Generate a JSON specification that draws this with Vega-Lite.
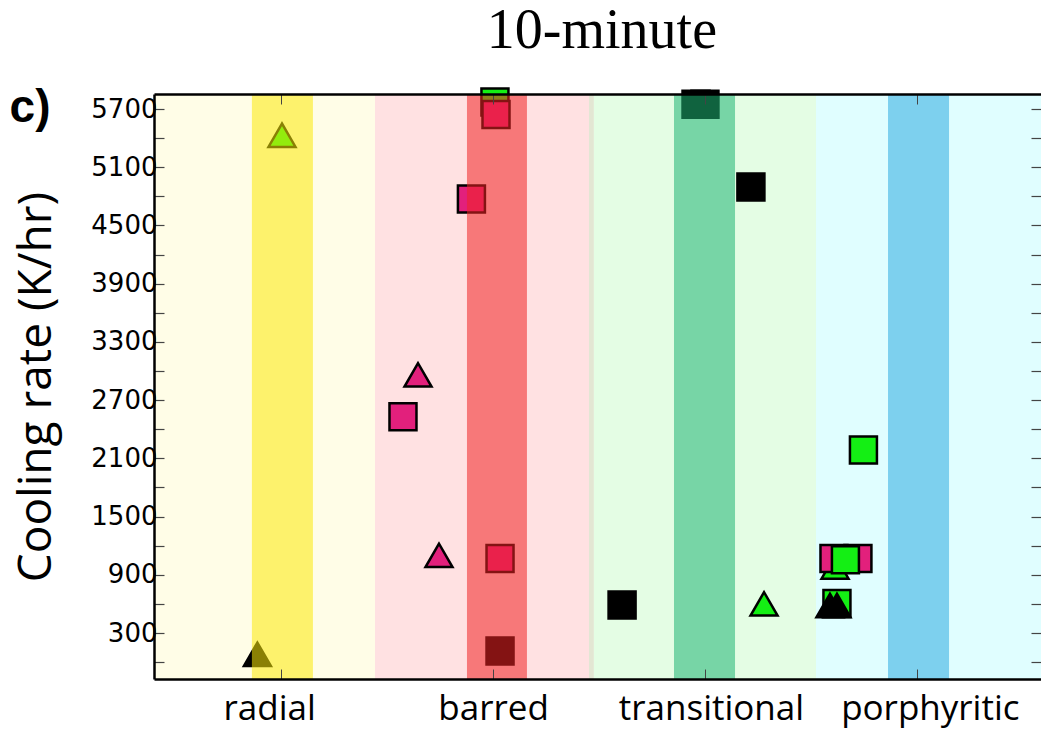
{
  "$schema": "https://vega.github.io/schema/vega-lite/v6.json",
  "width": 887,
  "height": 585,
  "autosize": {"type": "none"},
  "padding": {"left": 154, "top": 94, "right": 0, "bottom": 55},
  "background": "white",
  "config": {"view": {"stroke": null}},
  "datasets": {
    "bands": [
      {"texture": "radial", "x0": 0.4, "x1": 1.443},
      {"texture": "barred", "x0": 1.443, "x1": 2.453},
      {"texture": "edge", "x0": 2.453, "x1": 2.476},
      {"texture": "transitional", "x0": 2.476, "x1": 3.524},
      {"texture": "porphyritic", "x0": 3.524, "x1": 4.586}
    ],
    "cores": [
      {"texture": "radial", "x0": 0.862, "x1": 1.150},
      {"texture": "barred", "x0": 1.877, "x1": 2.160},
      {"texture": "transitional", "x0": 2.854, "x1": 3.142},
      {"texture": "porphyritic", "x0": 3.864, "x1": 4.152}
    ],
    "points": [
      {"x": 1.004, "rate": 5430, "marker": "triangle", "grp": "green"},
      {"x": 0.888, "rate": 80, "marker": "triangle", "grp": "black"},
      {"x": 1.646, "rate": 2960, "marker": "triangle", "grp": "magenta"},
      {"x": 1.575, "rate": 2530, "marker": "square", "grp": "magenta"},
      {"x": 1.745, "rate": 1100, "marker": "triangle", "grp": "magenta"},
      {"x": 2.033, "rate": 1068, "marker": "square", "grp": "magenta"},
      {"x": 2.033, "rate": 115, "marker": "square", "grp": "black"},
      {"x": 1.898, "rate": 4773, "marker": "square", "grp": "magenta"},
      {"x": 2.009, "rate": 5772, "marker": "square", "grp": "green"},
      {"x": 2.014, "rate": 5643, "marker": "square", "grp": "magenta"},
      {"x": 2.958, "rate": 5750, "marker": "square", "grp": "black"},
      {"x": 3.000, "rate": 5750, "marker": "square", "grp": "black"},
      {"x": 3.217, "rate": 4896, "marker": "square", "grp": "black"},
      {"x": 2.609, "rate": 589, "marker": "square", "grp": "black"},
      {"x": 3.279, "rate": 600, "marker": "triangle", "grp": "green"},
      {"x": 3.748, "rate": 2186, "marker": "square", "grp": "green"},
      {"x": 3.614, "rate": 980, "marker": "triangle", "grp": "green"},
      {"x": 3.609, "rate": 1068, "marker": "square", "grp": "magenta"},
      {"x": 3.722, "rate": 1068, "marker": "square", "grp": "magenta"},
      {"x": 3.663, "rate": 1055, "marker": "square", "grp": "green"},
      {"x": 3.623, "rate": 604, "marker": "square", "grp": "green"},
      {"x": 3.590, "rate": 583, "marker": "triangle", "grp": "black"},
      {"x": 3.623, "rate": 583, "marker": "triangle", "grp": "black"}
    ],
    "labels": [
      {"text": "10-minute", "role": "title", "lx": 2.514, "ly": 6329},
      {"text": "c)", "role": "panel", "lx": -0.185, "ly": 5566}
    ]
  },
  "layer": [
    {
      "data": {"name": "bands"},
      "mark": {"type": "rect"},
      "encoding": {
        "x": {"field": "x0", "type": "quantitative", "scale": {"domain": [0.4, 4.586], "nice": false, "zero": false},
          "axis": {"orient": "top", "values": [1, 2, 3, 4], "labels": false, "title": null, "grid": false, "domainColor": "black", "domainWidth": 2.5, "tickSize": -10, "tickColor": "#444444", "tickWidth": 1, "zindex": 1}},
        "x2": {"field": "x1"},
        "fill": {"field": "texture", "type": "nominal", "legend": null,
          "scale": {"domain": ["radial", "barred", "edge", "transitional", "porphyritic"], "range": ["#fffde7", "#ffe1e2", "#e3e6d3", "#e4fde4", "#e0feff"]}}
      }
    },
    {
      "data": {"name": "points"},
      "mark": {"type": "point", "filled": true, "size": 729, "stroke": "black", "strokeWidth": 2.5, "opacity": 1},
      "encoding": {
        "x": {"field": "x", "type": "quantitative", "scale": {"domain": [0.4, 4.586], "nice": false, "zero": false},
          "axis": {"orient": "bottom", "values": [1, 2, 3, 4], "labelExpr": "['', 'radial', 'barred', 'transitional', 'porphyritic'][datum.value]", "labelOffset": {"expr": "datum.value == 1 ? -12 : datum.value == 3 ? 6 : datum.value == 4 ? 13 : 0"}, "title": null, "grid": false, "domainColor": "black", "domainWidth": 2.5, "tickSize": -10, "tickColor": "#444444", "tickWidth": 1, "labelFont": "Open Sans", "labelFontSize": 35, "labelColor": "black", "labelPadding": 22, "labelLimit": 0, "labelFlush": false, "labelOverlap": false, "zindex": 1}},
        "y": {"field": "rate", "type": "quantitative", "scale": {"domain": [-174, 5855], "nice": false, "zero": false},
          "axis": {"orient": "left", "values": [0, 300, 600, 900, 1200, 1500, 1800, 2100, 2400, 2700, 3000, 3300, 3600, 3900, 4200, 4500, 4800, 5100, 5400, 5700], "format": "d", "labelExpr": "datum.value % 600 == 300 ? datum.label : ''", "title": "Cooling rate (K/hr)", "titleFont": "Open Sans", "titleFontSize": 46, "titleFontWeight": "normal", "titleColor": "black", "titlePadding": 30, "grid": false, "domainColor": "black", "domainWidth": 2.5, "tickSize": -10, "tickColor": "#444444", "tickWidth": 1.2, "labelFont": "DejaVu Sans", "labelFontSize": 26, "labelColor": "black", "labelPadding": 7, "labelOverlap": false, "zindex": 1}},
        "shape": {"field": "marker", "type": "nominal", "legend": null, "scale": {"domain": ["triangle", "square"], "range": ["triangle-up", "square"]}},
        "fill": {"field": "grp", "type": "nominal", "legend": null, "scale": {"domain": ["green", "magenta", "black"], "range": ["#14ef14", "#e2207c", "#000000"]}}
      }
    },
    {
      "data": {"name": "cores"},
      "mark": {"type": "rect", "opacity": 0.55},
      "encoding": {
        "x": {"field": "x0", "type": "quantitative", "scale": {"domain": [0.4, 4.586], "nice": false, "zero": false}, "axis": null},
        "x2": {"field": "x1"},
        "y": {"datum": -174, "type": "quantitative", "scale": {"domain": [-174, 5855], "nice": false, "zero": false},
          "axis": {"orient": "right", "values": [0, 300, 600, 900, 1200, 1500, 1800, 2100, 2400, 2700, 3000, 3300, 3600, 3900, 4200, 4500, 4800, 5100, 5400, 5700], "labels": false, "domain": false, "title": null, "grid": false, "tickSize": -10, "tickColor": "#444444", "tickWidth": 1.2, "zindex": 1}},
        "y2": {"datum": 5855},
        "fill": {"field": "texture", "type": "nominal", "legend": null,
          "scale": {"domain": ["radial", "barred", "transitional", "porphyritic"], "range": ["#fbe907", "#f02323", "#1eb473", "#2ca9e0"]}}
      }
    },
    {
      "data": {"name": "labels"},
      "transform": [{"filter": "datum.role == 'title'"}],
      "mark": {"type": "text", "font": "Liberation Serif", "fontWeight": "normal", "fontSize": 56, "align": "center", "baseline": "alphabetic", "color": "black"},
      "encoding": {
        "x": {"field": "lx", "type": "quantitative", "axis": null},
        "y": {"field": "ly", "type": "quantitative", "axis": null},
        "text": {"field": "text"}
      }
    },
    {
      "data": {"name": "labels"},
      "transform": [{"filter": "datum.role == 'panel'"}],
      "mark": {"type": "text", "font": "Liberation Sans", "fontWeight": "bold", "fontSize": 46, "align": "center", "baseline": "alphabetic", "color": "black"},
      "encoding": {
        "x": {"field": "lx", "type": "quantitative", "axis": null},
        "y": {"field": "ly", "type": "quantitative", "axis": null},
        "text": {"field": "text"}
      }
    }
  ],
  "resolve": {"axis": {"x": "independent", "y": "independent"}, "scale": {"fill": "independent"}}
}
